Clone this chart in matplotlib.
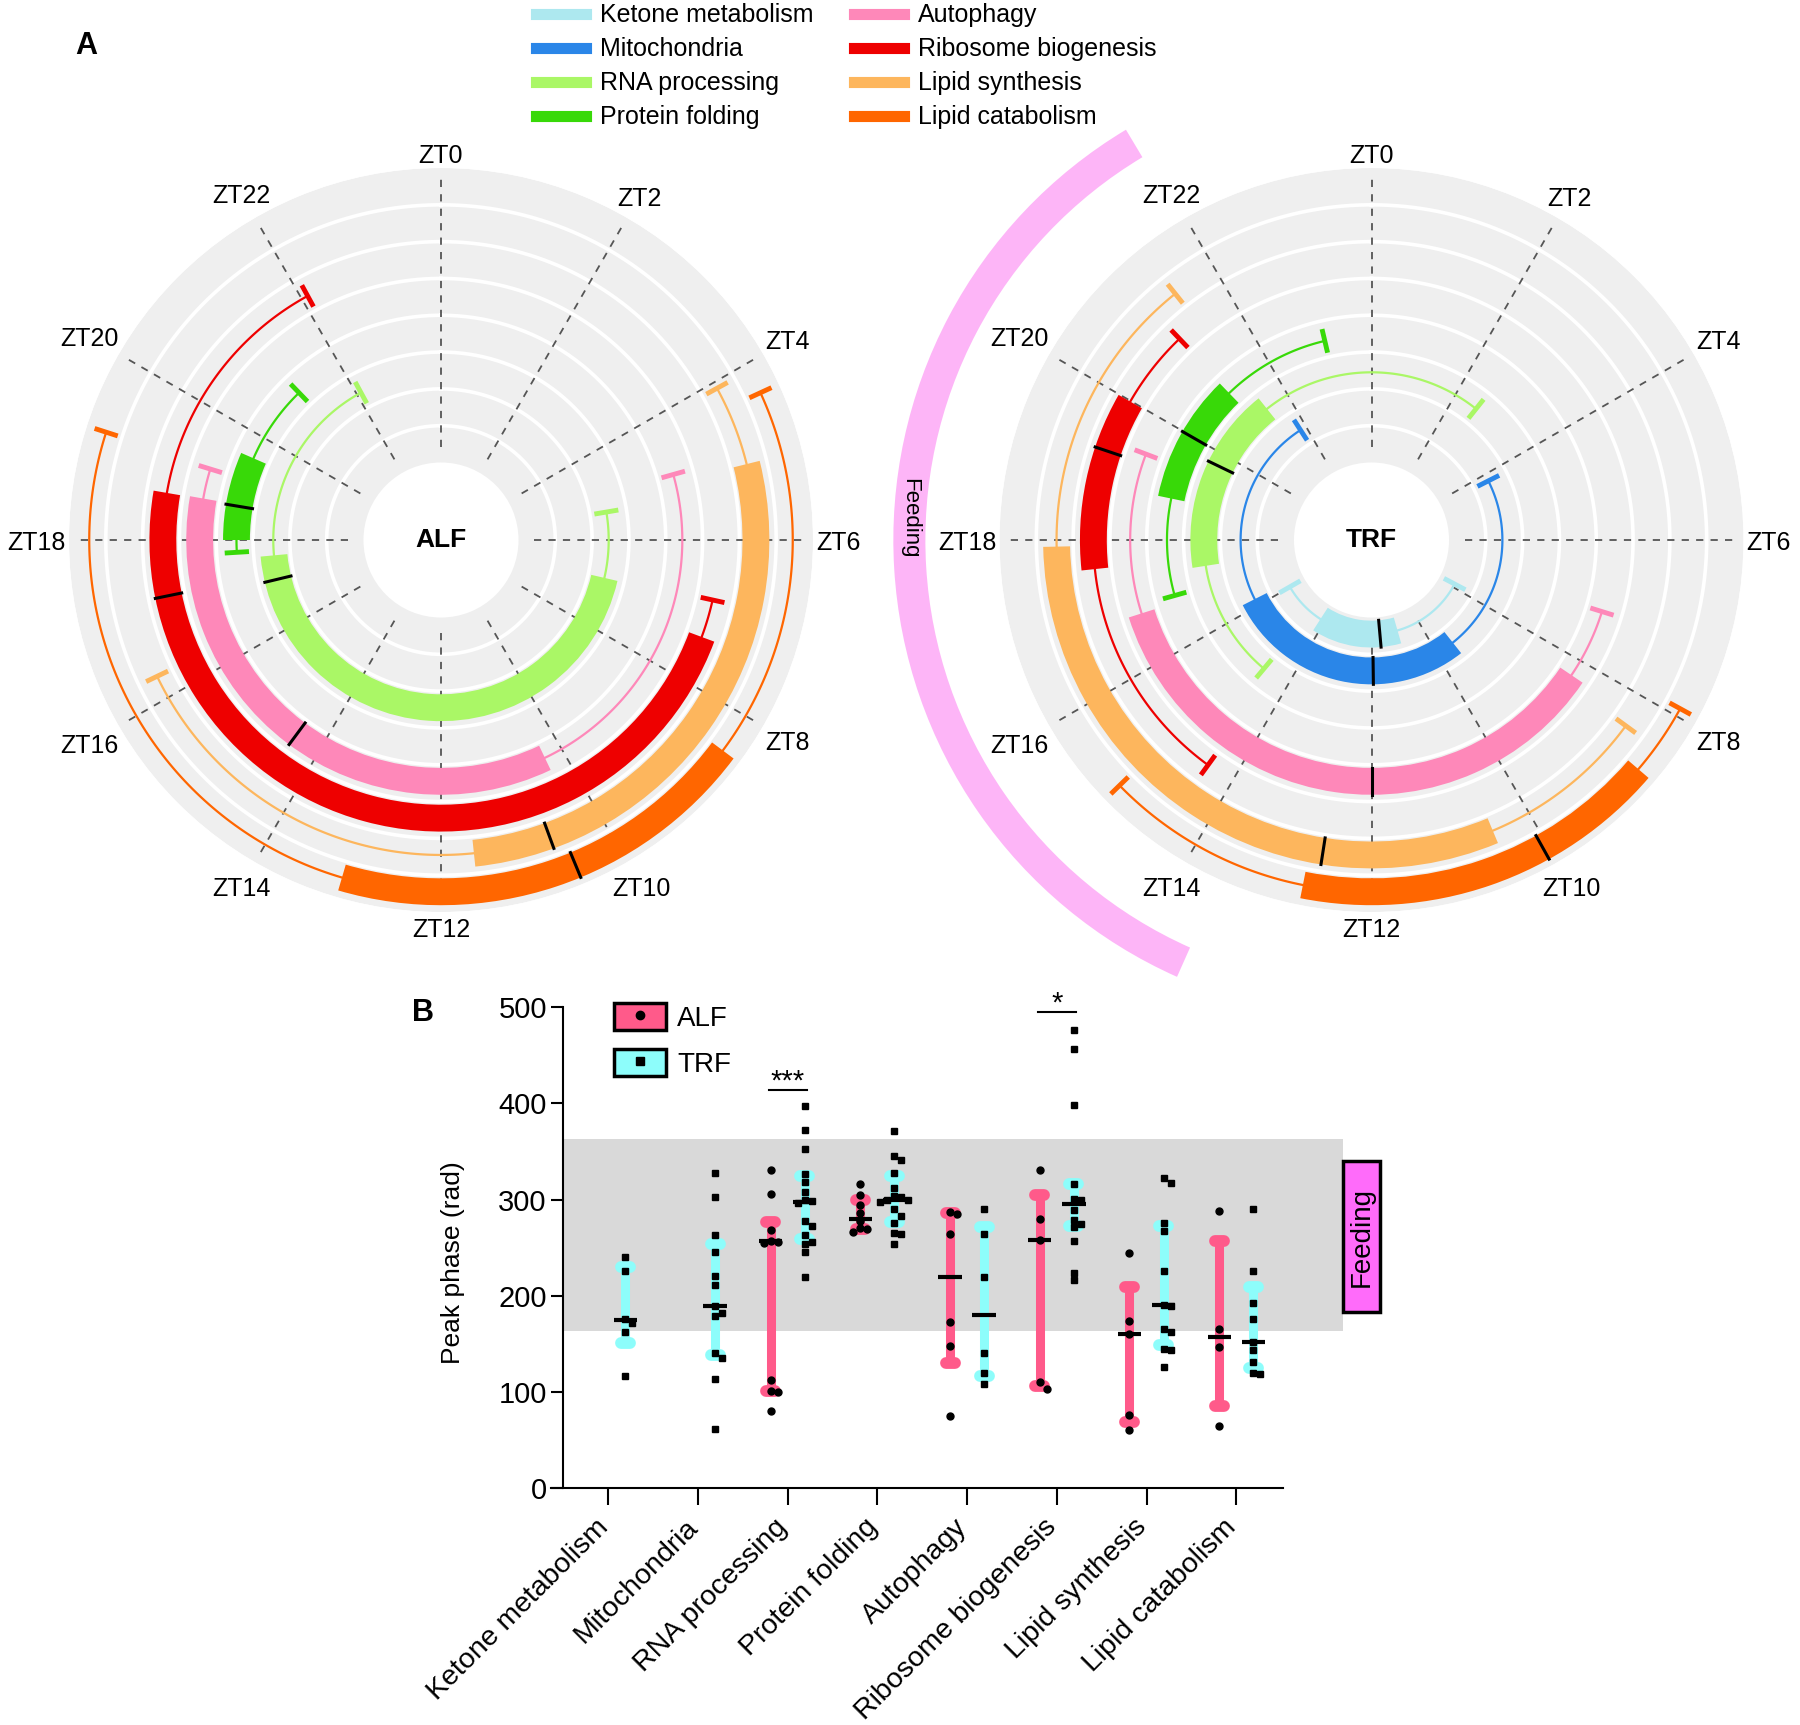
import numpy as np
import matplotlib
matplotlib.use("Agg")
import matplotlib.pyplot as plt
from matplotlib.lines import Line2D
from matplotlib.patches import Patch, Rectangle
from matplotlib.transforms import ScaledTranslation

plt.rcParams['font.family'] = ['Liberation Sans', 'DejaVu Sans']

nan = np.nan

# ---------------- data ----------------
categories = ['Ketone metabolism', 'Mitochondria', 'RNA processing', 'Protein folding',
              'Autophagy', 'Ribosome biogenesis', 'Lipid synthesis', 'Lipid catabolism']
cat_colors = ['#ade8ef', '#2a86e8', '#aaf766', '#38d908',
              '#fe88b9', '#ee0000', '#fdb65d', '#ff6600']

# panel A, phases in ZT hours (bars run clockwise from start to end)
alf_bar_start = [nan, nan, 6.87, 18.0, 10.3, 7.36, 5.07, 8.45]
alf_bar_end = [nan, nan, 17.65, 19.57, 18.66, 18.65, 11.6, 13.09]
alf_phase = [nan, nan, 17.1, 18.63, 14.44, 17.23, 10.66, 10.5]
alf_err_lo = [nan, nan, 5.36, 17.77, 4.95, 6.83, 4.08, 4.35]
alf_err_hi = [nan, nan, 22.1, 21.07, 19.14, 22.09, 16.29, 19.19]

trf_bar_start = [10.93, 9.44, 17.41, 18.78, 8.27, 17.6, 10.49, 8.71]
trf_bar_end = [14.19, 16.21, 21.43, 21.06, 16.82, 19.99, 17.92, 12.75]
trf_phase = [11.66, 11.95, 19.72, 19.99, 12.0, 19.24, 12.59, 10.06]
trf_err_lo = [7.86, 4.21, 14.66, 16.95, 7.15, 14.4, 8.41, 7.91]
trf_err_hi = [16.01, 21.81, 2.57, 23.12, 19.39, 21.09, 21.43, 15.05]

feeding_zt = [13.6, 21.94]
zt_ticks = list(range(0, 24, 2))

# panel B, peak phase values
alf_points = [[], [],
              [331, 306, 268, 257, 256, 255, 113, 101, 100, 80],
              [316, 305, 294, 286, 278, 270, 269, 266],
              [287, 285, 264, 173, 148, 75],
              [331, 280, 258, 110, 103],
              [244, 174, 160, 76, 61],
              [288, 166, 147, 65]]
alf_median = [nan, nan, 257, 280, 219, 258, 160, 157]
alf_lo = [nan, nan, 101, 269, 130, 106, 69, 86]
alf_hi = [nan, nan, 277, 299, 286, 305, 209, 257]

trf_points = [[240, 226, 176, 172, 162, 117],
              [328, 303, 263, 245, 221, 211, 189, 182, 179, 141, 135, 114, 62],
              [397, 372, 352, 326, 318, 308, 300, 298, 296, 278, 273, 263, 256, 254, 245, 219],
              [371, 345, 341, 328, 312, 304, 303, 300, 299, 297, 290, 283, 276, 265, 264, 254],
              [290, 264, 219, 141, 120, 108],
              [476, 456, 398, 316, 301, 300, 289, 279, 275, 271, 257, 224, 216],
              [322, 317, 276, 267, 226, 190, 189, 166, 162, 145, 144, 126],
              [290, 226, 192, 176, 152, 144, 131, 120, 119]]
trf_median = [175, 189, 297, 299, 180, 295, 190, 152]
trf_lo = [151, 138, 259, 277, 117, 272, 149, 125]
trf_hi = [230, 254, 324, 324, 271, 316, 273, 209]

feeding_band = [163, 363]
sig_marks = [(2, '***', 414), (5, '*', 495)]

alf_color = '#ff5a8a'
trf_color = '#8dfdfb'

# ---------------- helpers ----------------
R_HOLE = 2.106
R_OUT = 10.106
BAR_H = 0.73
PX_PER_UNIT = 372 / R_OUT
LABEL_EDGE = 375   # px from centre where ZT labels start
LABEL_HH = 12      # half height of a ZT label, px


def zt2rad(h):
    return np.asarray(h, dtype=float) * 2 * np.pi / 24


def span(a, b):
    return (b - a) % 24


def draw_clock(ax, name, bar_start, bar_end, phase, err_lo, err_hi, renderer):
    ax.set_theta_zero_location('N')
    ax.set_theta_direction(-1)
    ax.set_ylim(0, R_OUT)
    full = np.linspace(0, 2 * np.pi, 500)
    ax.bar(np.pi, R_OUT - R_HOLE, width=2 * np.pi, bottom=R_HOLE,
           color='#efefef', linewidth=0, zorder=0.5)
    for k in range(1, 8):
        ax.plot(full, np.full_like(full, R_HOLE + k), color='white', lw=2.6, zorder=1)
    for h in zt_ticks:
        th = float(zt2rad(h))
        ax.plot([th, th], [2.53, 9.9], color='#555555', lw=1.3, ls=(0, (4, 4)), zorder=1.5)
        t = ax.text(th, 10.5, f'ZT{h}', ha='center', va='center_baseline', fontsize=18)
        hw = t.get_window_extent(renderer).width / 2
        ext = hw * abs(np.sin(th)) + LABEL_HH * abs(np.cos(th))
        t.set_position((th, (LABEL_EDGE + ext) / PX_PER_UNIT))
    for i in range(len(categories)):
        if np.isnan(bar_start[i]):
            continue
        c = cat_colors[i]
        rc = R_HOLE + i + 0.45
        w = span(bar_start[i], bar_end[i])
        ax.bar(zt2rad(bar_start[i] + w / 2), BAR_H, width=zt2rad(w), bottom=rc - BAR_H / 2,
               color=c, linewidth=0, zorder=2)
        for a, b in [(err_lo[i], bar_start[i]), (bar_end[i], err_hi[i])]:
            t = np.linspace(zt2rad(a), zt2rad(a + span(a, b)), 100)
            ax.plot(t, np.full_like(t, rc), color=c, lw=1.6, zorder=2)
        for e in (err_lo[i], err_hi[i]):
            ax.plot([zt2rad(e)] * 2, [rc - 0.33, rc + 0.33], color=c, lw=3.5,
                    solid_capstyle='butt', zorder=2)
        ax.plot([zt2rad(phase[i])] * 2, [rc - BAR_H / 2, rc + BAR_H / 2],
                color='black', lw=2.2, zorder=3)
    ax.text(0, 0, name, ha='center', va='center', fontsize=19, fontweight='bold')
    ax.set_ylim(0, R_OUT)
    ax.set_xticks([])
    ax.set_yticks([])
    ax.grid(False)
    ax.spines['polar'].set_visible(False)
    ax.set_facecolor('none')


def swarm(xc, vals, px_x=89.7, px_y=0.963, dmin=7.0):
    placed, xs = [], []
    for v in vals:
        xo = xc
        for k in [0, 1, -1, 2, -2, 3, -3]:
            xo = xc + k * dmin / px_x
            if all(np.hypot((xo - qx) * px_x, (v - qy) * px_y) >= dmin for qx, qy in placed):
                break
        placed.append((xo, v))
        xs.append(xo)
    return xs


def draw_group(ax, xc, pts, med, lo, hi, color, marker, ms):
    ax.vlines(xc, lo, hi, color=color, lw=6.5, zorder=2)
    for yv in (lo, hi):
        ax.plot([xc - 0.05, xc + 0.05], [yv, yv], color=color, lw=8.5,
                solid_capstyle='round', zorder=2)
    ax.plot([xc - 0.13, xc + 0.13], [med, med], color='black', lw=3,
            solid_capstyle='butt', zorder=4)
    ax.plot(swarm(xc, pts), pts, ls='none', marker=marker, ms=ms, color='black', zorder=3)


# ---------------- figure ----------------
fig = plt.figure(figsize=(18, 17.25), dpi=100)
renderer = fig.canvas.get_renderer()

ax_alf = fig.add_axes([0.03833, 0.4713, 0.41333, 0.4313], projection='polar')
ax_trf = fig.add_axes([0.55528, 0.4713, 0.41333, 0.4313], projection='polar')
draw_clock(ax_alf, 'ALF', alf_bar_start, alf_bar_end, alf_phase, alf_err_lo, alf_err_hi, renderer)
draw_clock(ax_trf, 'TRF', trf_bar_start, trf_bar_end, trf_phase, trf_err_lo, trf_err_hi, renderer)

fw = span(feeding_zt[0], feeding_zt[1])
ax_trf.bar(zt2rad(feeding_zt[0] + fw / 2), 0.87, width=zt2rad(fw), bottom=12.12,
           color='#fdb5f7', linewidth=0, clip_on=False, zorder=0.3)
ax_trf.text(zt2rad(18.18), 12.56, 'Feeding', rotation=-90, ha='center', va='center', fontsize=16)
ax_trf.set_ylim(0, R_OUT)

# top legend
leg_handles = [Line2D([], [], color=c, lw=8) for c in cat_colors]
fig.legend(leg_handles, categories, loc='upper left', bbox_to_anchor=(0.2975, 0.998),
           ncol=2, frameon=False, fontsize=18, handlelength=2.0, handletextpad=0.58,
           columnspacing=1.6, labelspacing=0.4, borderpad=0, borderaxespad=0)

fig.text(86 / 1800, 1 - 46 / 1725, 'A', fontsize=22, fontweight='bold', ha='center', va='center')
fig.text(422.5 / 1800, 1 - 1012.5 / 1725, 'B', fontsize=22, fontweight='bold',
         ha='center', va='center')

# panel B
axb = fig.add_axes([0.31303, 0.13722, 0.43306, 0.27901])
x = np.arange(len(categories))
axb.axhspan(feeding_band[0], feeding_band[1], color='#d9d9d9', lw=0, zorder=0)
for i in range(len(categories)):
    if alf_points[i]:
        draw_group(axb, x[i] - 0.19, alf_points[i], alf_median[i], alf_lo[i], alf_hi[i],
                   alf_color, 'o', 5)
    if trf_points[i]:
        draw_group(axb, x[i] + 0.19, trf_points[i], trf_median[i], trf_lo[i], trf_hi[i],
                   trf_color, 's', 4.5)

for ci, star, yv in sig_marks:
    axb.plot([x[ci] - 0.21, x[ci] + 0.21], [yv, yv], color='black', lw=1.5, clip_on=False)
    axb.text(x[ci], yv, star, ha='center', va='baseline', fontsize=21)

axb.set_xlim(-0.5, 8.19)
axb.set_ylim(0, 500)
axb.set_yticks(np.arange(0, 501, 100))
axb.set_xticks(x)
axb.set_xticklabels([])
# category labels, rotated, hung just below the ticks
lab_tr = axb.get_xaxis_transform() + ScaledTranslation(0.05, -0.26, fig.dpi_scale_trans)
for xi, lab in zip(x, categories):
    axb.text(xi, 0, lab, transform=lab_tr, rotation=45, ha='right', va='top', fontsize=20.5)
axb.tick_params(axis='x', length=12.5, width=1.5)
axb.tick_params(axis='y', length=8.5, width=1.5, labelsize=21)
axb.set_ylabel('Peak phase (rad)', fontsize=19)
axb.yaxis.set_label_coords(-0.126, 0.4685)
for s in ('top', 'right'):
    axb.spines[s].set_visible(False)
for s in ('left', 'bottom'):
    axb.spines[s].set_linewidth(1.5)
axb.spines['bottom'].set_bounds(-0.634, 7.52)

axb.add_patch(Rectangle((8.19, 183), 0.41, 157, facecolor='#ff6bfa', edgecolor='black',
                        lw=2.5, clip_on=False, zorder=3))
axb.text(8.395, 261.5, 'Feeding', rotation=90, ha='center', va='center', fontsize=20, zorder=4)

legb = [(Patch(facecolor=alf_color, edgecolor='black', lw=2.5),
         Line2D([], [], ls='none', marker='o', color='black', ms=6)),
        (Patch(facecolor=trf_color, edgecolor='black', lw=2.5),
         Line2D([], [], ls='none', marker='s', color='black', ms=5.5))]
axb.legend(legb, ['ALF', 'TRF'], loc='upper left', bbox_to_anchor=(0.0649, 1.008),
           frameon=False, fontsize=20, handlelength=1.87, handleheight=1.1,
           handletextpad=0.4, labelspacing=0.62, borderpad=0, borderaxespad=0)

fig.savefig('out.png', dpi=100)
